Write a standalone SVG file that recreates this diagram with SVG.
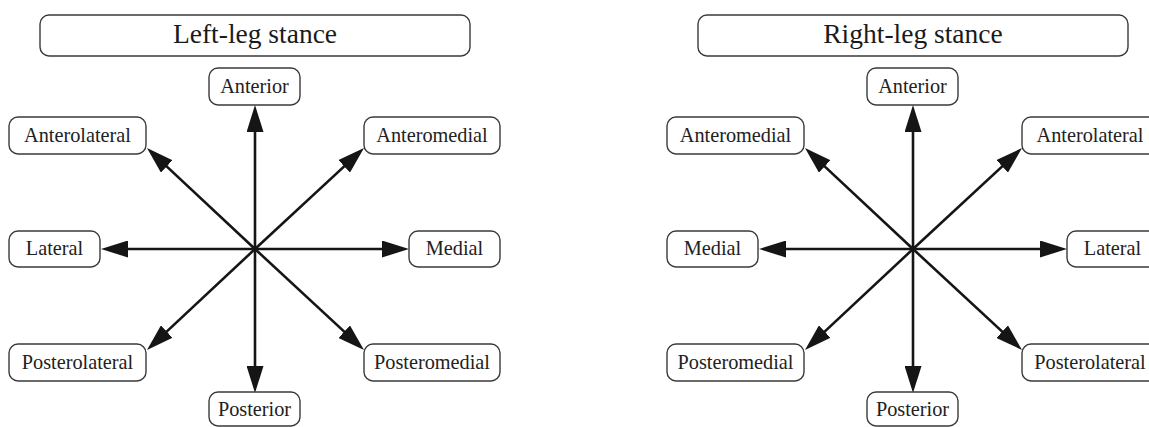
<svg xmlns="http://www.w3.org/2000/svg" width="1149" height="427" viewBox="0 0 1149 427">
<style>
.box{fill:#fff;stroke:#3a3a3a;stroke-width:1.4}
.lbl{font-family:"Liberation Serif","Times New Roman",serif;font-size:20.3px;fill:#222;text-anchor:middle}
.ttl{font-family:"Liberation Serif","Times New Roman",serif;font-size:27.5px;fill:#1a1a1a;text-anchor:middle}
.arr{stroke:#151515;stroke-width:2.6;fill:none;marker-end:url(#ah)}
</style>
<defs>
<marker id="ah" markerUnits="userSpaceOnUse" viewBox="0 0 27 17" markerWidth="27" markerHeight="17" refX="21" refY="8.5" orient="auto">
<path d="M0,0 L27,8.5 L0,17 Z" fill="#151515"/>
</marker>
</defs>
<rect width="1149" height="427" fill="#fff"/>
<g id="connectors">
<line class="arr" x1="255" y1="249" x2="255" y2="111"/>
<line class="arr" x1="255" y1="249" x2="255" y2="387"/>
<line class="arr" x1="255" y1="249" x2="107" y2="249"/>
<line class="arr" x1="255" y1="249" x2="403" y2="249"/>
<line class="arr" x1="255" y1="249" x2="151.4" y2="152.1"/>
<line class="arr" x1="255" y1="249" x2="359.6" y2="152.1"/>
<line class="arr" x1="255" y1="249" x2="151.4" y2="345.9"/>
<line class="arr" x1="255" y1="249" x2="359.6" y2="345.9"/>
<line class="arr" x1="913" y1="249" x2="913" y2="111"/>
<line class="arr" x1="913" y1="249" x2="913" y2="387"/>
<line class="arr" x1="913" y1="249" x2="765" y2="249"/>
<line class="arr" x1="913" y1="249" x2="1061" y2="249"/>
<line class="arr" x1="913" y1="249" x2="809.4" y2="152.1"/>
<line class="arr" x1="913" y1="249" x2="1017.6" y2="152.1"/>
<line class="arr" x1="913" y1="249" x2="809.4" y2="345.9"/>
<line class="arr" x1="913" y1="249" x2="1017.6" y2="345.9"/>
</g>
<g id="title-left"><rect class="box" x="40" y="15" width="430" height="41" rx="9"/><text class="ttl" x="255" y="43">Left-leg stance</text></g>
<g id="L-anterior"><rect class="box" x="209" y="68" width="91" height="37" rx="9"/><text class="lbl" x="254.5" y="92.5">Anterior</text></g>
<g id="L-anterolateral"><rect class="box" x="9" y="117" width="137" height="37" rx="9"/><text class="lbl" x="77.5" y="141.5">Anterolateral</text></g>
<g id="L-anteromedial"><rect class="box" x="364" y="117" width="136" height="37" rx="9"/><text class="lbl" x="432" y="141.5">Anteromedial</text></g>
<g id="L-lateral"><rect class="box" x="9" y="231" width="91" height="36" rx="9"/><text class="lbl" x="54.5" y="255">Lateral</text></g>
<g id="L-medial"><rect class="box" x="409" y="231" width="91" height="36" rx="9"/><text class="lbl" x="454.5" y="255">Medial</text></g>
<g id="L-posterolateral"><rect class="box" x="9" y="344" width="137" height="37" rx="9"/><text class="lbl" x="77.5" y="368.5">Posterolateral</text></g>
<g id="L-posteromedial"><rect class="box" x="364" y="344" width="136" height="37" rx="9"/><text class="lbl" x="432" y="368.5">Posteromedial</text></g>
<g id="L-posterior"><rect class="box" x="209" y="392" width="91" height="34" rx="9"/><text class="lbl" x="254.5" y="416">Posterior</text></g>
<g id="title-right"><rect class="box" x="698" y="15" width="430" height="41" rx="9"/><text class="ttl" x="913" y="43">Right-leg stance</text></g>
<g id="R-anterior"><rect class="box" x="867" y="68" width="91" height="37" rx="9"/><text class="lbl" x="912.5" y="92.5">Anterior</text></g>
<g id="R-anteromedial"><rect class="box" x="667" y="117" width="137" height="37" rx="9"/><text class="lbl" x="735.5" y="141.5">Anteromedial</text></g>
<g id="R-anterolateral"><rect class="box" x="1022" y="117" width="136" height="37" rx="9"/><text class="lbl" x="1090" y="141.5">Anterolateral</text></g>
<g id="R-medial"><rect class="box" x="667" y="231" width="91" height="36" rx="9"/><text class="lbl" x="712.5" y="255">Medial</text></g>
<g id="R-lateral"><rect class="box" x="1067" y="231" width="91" height="36" rx="9"/><text class="lbl" x="1112.5" y="255">Lateral</text></g>
<g id="R-posteromedial"><rect class="box" x="667" y="344" width="137" height="37" rx="9"/><text class="lbl" x="735.5" y="368.5">Posteromedial</text></g>
<g id="R-posterolateral"><rect class="box" x="1022" y="344" width="136" height="37" rx="9"/><text class="lbl" x="1090" y="368.5">Posterolateral</text></g>
<g id="R-posterior"><rect class="box" x="867" y="392" width="91" height="34" rx="9"/><text class="lbl" x="912.5" y="416">Posterior</text></g>
</svg>
